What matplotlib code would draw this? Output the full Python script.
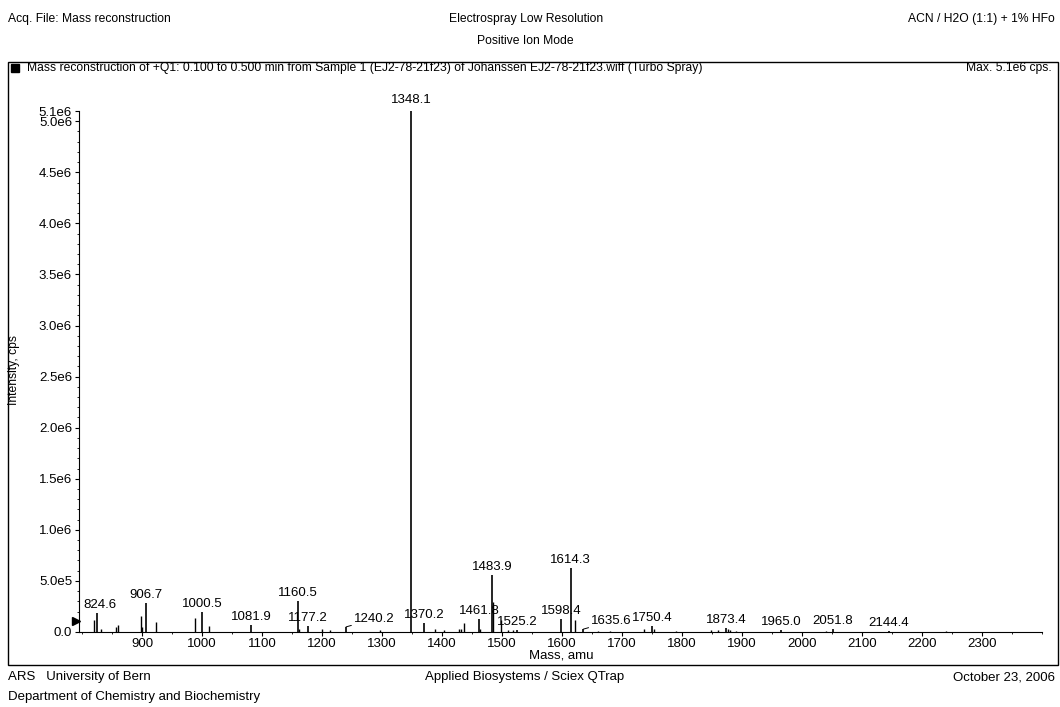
import numpy as np
import matplotlib
matplotlib.use("Agg")
import matplotlib.pyplot as plt
from matplotlib.ticker import MultipleLocator, FixedLocator, FuncFormatter
from matplotlib.patches import Rectangle
from matplotlib.transforms import blended_transform_factory

plt.rcParams['font.family'] = ['Liberation Sans', 'DejaVu Sans']

# labelled peaks (m/z, intensity in cps)
label_mass = [824.6, 906.7, 1000.5, 1081.9, 1160.5, 1177.2, 1240.2, 1348.1, 1370.2, 1461.8,
              1483.9, 1525.2, 1598.4, 1614.3, 1635.6, 1750.4, 1873.4, 1965.0, 2051.8, 2144.4]
label_int = [1.83e5, 2.8e5, 2.0e5, 7.0e4, 3.0e5, 6.0e4, 5.0e4, 5.1e6, 8.6e4, 1.3e5,
             5.6e5, 1.5e4, 1.28e5, 6.3e5, 2.8e4, 6.0e4, 4.0e4, 1.5e4, 2.5e4, 1.0e4]

# smaller unlabelled peaks
other_mass = [820.2, 831.0, 856.3, 860.1, 897.5, 900.4, 923.1, 989.0, 1011.2, 1161.8,
              1200.3, 1212.6, 1296.0, 1388.0, 1403.2, 1428.5, 1432.0, 1436.1, 1464.0, 1485.8,
              1498.3, 1510.0, 1518.0, 1621.2, 1660.0, 1680.0, 1737.2, 1754.0, 1790.0, 1849.0,
              1860.0, 1877.0, 1880.5, 1890.0, 2040.0, 2240.0]
other_int = [1.2e5, 3.4e4, 5.0e4, 7.0e4, 1.6e5, 5.0e4, 9.7e4, 1.4e5, 6.0e4, 3.4e4,
             3.4e4, 1.7e4, 1.7e4, 3.4e4, 2.4e4, 2.8e4, 3.4e4, 9.0e4, 3.0e4, 2.9e5,
             1.2e5, 1.5e4, 1.5e4, 1.2e5, 1.0e4, 1.0e4, 2.8e4, 2.8e4, 1.0e4, 1.5e4,
             2.0e4, 2.5e4, 2.0e4, 1.0e4, 1.0e4, 8.0e3]

XMIN, XMAX = 795, 2400
YMAX = 5.1e6
THRESHOLD = 1.1e5
y_ticks = [0, 5e5, 1e6, 1.5e6, 2e6, 2.5e6, 3e6, 3.5e6, 4e6, 4.5e6, 5e6, 5.1e6]

# label offsets in pixels (dx, dy) and leader flag
special = {824.6: (3, 2, False), 1240.2: (8, 2, True), 1635.6: (8, 2, True), 1348.1: (0, 5, False)}

FS = 9.5   # axis / peak labels
HS = 8.7   # header text

W, H = 1060, 707
fig = plt.figure(figsize=(W / 100, H / 100), dpi=100)
ax = fig.add_axes([79 / W, 1 - 632 / H, (1042 - 79) / W, (632 - 111) / H])

ax.vlines(other_mass, 0, other_int, color='black', lw=1.0)
ax.vlines(label_mass, 0, label_int, color='black', lw=1.2)

for m, v in zip(label_mass, label_int):
    dx, dy, leader = special.get(m, (0, 2, False))
    if leader:
        ax.annotate(f'{m:.1f}', xy=(m, v), xytext=(dx, dy), textcoords='offset pixels',
                    ha='left', va='bottom', fontsize=FS,
                    arrowprops=dict(arrowstyle='-', lw=0.7, color='black', shrinkA=0, shrinkB=0))
    else:
        ax.annotate(f'{m:.1f}', xy=(m, v), xytext=(dx, dy), textcoords='offset pixels',
                    ha='center', va='bottom', fontsize=FS)

# threshold marker
trans = blended_transform_factory(ax.transAxes, ax.transData)
ax.plot([-0.003], [THRESHOLD], marker='>', color='black', markersize=6, transform=trans, clip_on=False)

ax.set_xlim(XMIN, XMAX)
ax.set_ylim(0, YMAX)
ax.xaxis.set_major_locator(FixedLocator(np.arange(900, 2301, 100)))
ax.xaxis.set_minor_locator(MultipleLocator(50))
ax.yaxis.set_major_locator(FixedLocator(y_ticks))
ax.yaxis.set_minor_locator(MultipleLocator(1e5))


def yfmt(v, pos):
    if v == 0:
        return '0.0'
    m, e = ('%.1e' % v).split('e')
    return f'{m}e{int(e)}'


ax.yaxis.set_major_formatter(FuncFormatter(yfmt))
ax.tick_params(axis='both', which='major', length=3, width=0.8, labelsize=FS, pad=2)
ax.tick_params(axis='both', which='minor', length=1.5, width=0.6)
ax.tick_params(axis='x', which='major', pad=1)
ax.spines['top'].set_visible(False)
ax.spines['right'].set_visible(False)

# frame around the plot panel
fig.add_artist(Rectangle((8 / W, 1 - 665 / H), 1050 / W, 603 / H, transform=fig.transFigure,
                         fill=False, lw=1.0, color='black'))
fig.add_artist(Rectangle((11 / W, 1 - 72 / H), 8 / W, 8 / H, transform=fig.transFigure,
                         color='black'))

fig.text(27 / W, 1 - 68 / H, 'Mass reconstruction of +Q1: 0.100 to 0.500 min from Sample 1 (EJ2-78-21f23) of Johanssen EJ2-78-21f23.wiff (Turbo Spray)',
         fontsize=HS, va='center', ha='left')
fig.text(1052 / W, 1 - 68 / H, 'Max. 5.1e6 cps.', fontsize=HS, va='center', ha='right')

fig.text(8 / W, 1 - 19 / H, 'Acq. File: Mass reconstruction', fontsize=HS, va='center', ha='left')
fig.text(526 / W, 1 - 19 / H, 'Electrospray Low Resolution', fontsize=HS, va='center', ha='center')
fig.text(1055 / W, 1 - 19 / H, 'ACN / H2O (1:1) + 1% HFo', fontsize=HS, va='center', ha='right')
fig.text(525 / W, 1 - 41 / H, 'Positive Ion Mode', fontsize=HS, va='center', ha='center')

fig.text(14 / W, 1 - 370 / H, 'Intensity, cps', fontsize=HS, va='center', ha='center', rotation=90)
fig.text(561 / W, 1 - 656 / H, 'Mass, amu', fontsize=FS, va='center', ha='center')

fig.text(8 / W, 1 - 677 / H, 'ARS   University of Bern', fontsize=FS, va='center', ha='left')
fig.text(525 / W, 1 - 677 / H, 'Applied Biosystems / Sciex QTrap', fontsize=FS, va='center', ha='center')
fig.text(1055 / W, 1 - 677 / H, 'October 23, 2006', fontsize=FS, va='center', ha='right')
fig.text(8 / W, 1 - 697 / H, 'Department of Chemistry and Biochemistry', fontsize=FS, va='center', ha='left')

fig.savefig('out.png', dpi=100)
